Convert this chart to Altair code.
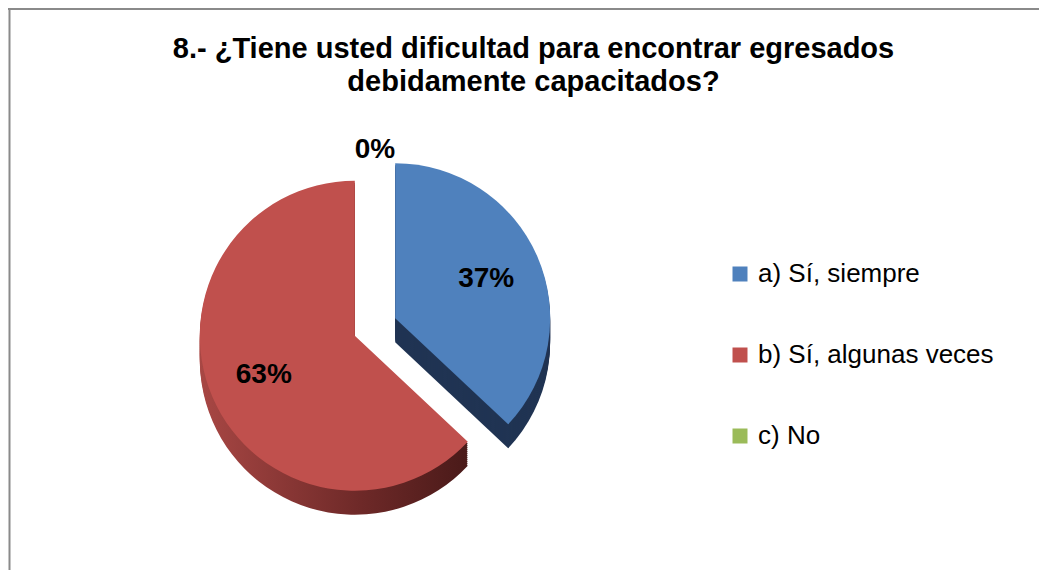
import altair as alt
import pandas as pd

# ---- data ----
categories = ["a) Sí, siempre", "b) Sí, algunas veces", "c) No"]
values = [37, 63, 0]
colors = ["#4F81BD", "#C0504D", "#9BBB59"]
title_lines = ["8.- ¿Tiene usted dificultad para encontrar egresados",
               "debidamente capacitados?"]

df = pd.DataFrame({"category": categories, "value": values,
                   "order": list(range(len(categories)))})

# ---- layout constants ----
FONT = "Liberation Sans"
W, H = 1031, 562
CX, CY = 367, 319      # pie centre (view pixels)
R = 155                # pie radius
D = 22                 # explosion distance
DEPTH = 24             # pseudo-3D thickness
TAU = 6.283185307179586

base = (
    alt.Chart(df)
    .transform_window(end="sum(value)", sort=[alt.SortField("order")], frame=[None, 0])
    .transform_calculate(start="datum.end - datum.value")
    .transform_calculate(ang=f"(datum.start + datum.end) / 200 * {TAU}")
    .transform_calculate(sx=f"{CX} + {D} * sin(datum.ang)")
    .transform_calculate(sy=f"{CY} - {D} * cos(datum.ang)")
)

theta = alt.Theta("start:Q", scale=alt.Scale(domain=[0, 100], nice=False, zero=True), stack=None)
theta2 = alt.Theta2("end:Q")
xpos = alt.X("sx:Q", scale=None, axis=None)
ypos = alt.Y("sy:Q", scale=None, axis=None)

red_side = alt.LinearGradient(
    gradient="linear",
    stops=[alt.GradientStop(offset=0, color="#A84744"),
           alt.GradientStop(offset=0.6, color="#6E2928"),
           alt.GradientStop(offset=1, color="#4A1A19")],
    x1=0, x2=1, y1=0, y2=0,
)
blue_side = "#203453"

side_layers = []
for k in range(DEPTH, 0, -2):
    side_layers.append(
        base.transform_filter(alt.datum.category == categories[1])
        .mark_arc(radius=R, yOffset=k, fill=red_side)
        .encode(theta=theta, theta2=theta2, x=xpos, y=ypos)
    )
    side_layers.append(
        base.transform_filter(alt.datum.category == categories[0])
        .mark_arc(radius=R, yOffset=k, fill=blue_side)
        .encode(theta=theta, theta2=theta2, x=xpos, y=ypos)
    )

top = base.mark_arc(radius=R).encode(
    theta=theta, theta2=theta2, x=xpos, y=ypos,
    color=alt.Color(
        "category:N",
        scale=alt.Scale(domain=categories, range=colors),
        legend=alt.Legend(
            orient="none", legendX=719, legendY=253, title=None,
            symbolType="square", symbolSize=225, symbolStrokeWidth=0,
            labelFont=FONT, labelFontSize=26, labelColor="black",
            rowPadding=55, labelOffset=5, padding=0, labelLimit=400,
        ),
    ),
)

labels = (
    base.transform_calculate(rl=f"datum.value == 0 ? {R} : {R * 0.64}")
    .transform_calculate(lx="datum.sx + datum.rl * sin(datum.ang)")
    .transform_calculate(ly="datum.sy - datum.rl * cos(datum.ang)")
    .transform_calculate(label="datum.value + '%'")
    .mark_text(font=FONT, fontSize=28, fontWeight="bold", color="black")
    .encode(x=alt.X("lx:Q", scale=None, axis=None),
            y=alt.Y("ly:Q", scale=None, axis=None),
            text="label:N")
)

title = (
    alt.Chart(alt.Data(values=[{"t": "\n".join(title_lines)}]))
    .mark_text(font=FONT, fontSize=29, fontWeight="bold", color="black",
               align="center", baseline="alphabetic", lineBreak="\n", lineHeight=33)
    .encode(x=alt.value(525.5), y=alt.value(50), text="t:N")
)

frame_data = alt.Data(values=[{}])
border_top = alt.Chart(frame_data).mark_rule(color="#8A8A8A", strokeWidth=2).encode(
    x=alt.value(0), x2=alt.value(W), y=alt.value(1))
border_left = alt.Chart(frame_data).mark_rule(color="#8A8A8A", strokeWidth=2).encode(
    x=alt.value(1.5), y=alt.value(0), y2=alt.value(H))

chart = (
    alt.layer(*side_layers, top, labels, title, border_top, border_left)
    .properties(
        width=W, height=H,
        padding=0,
        autosize=alt.AutoSizeParams(type="none"),
        background="white",
    )
    .configure_view(stroke=None)
)

chart.save("out.html", embed_options={"renderer": "svg", "actions": False})
